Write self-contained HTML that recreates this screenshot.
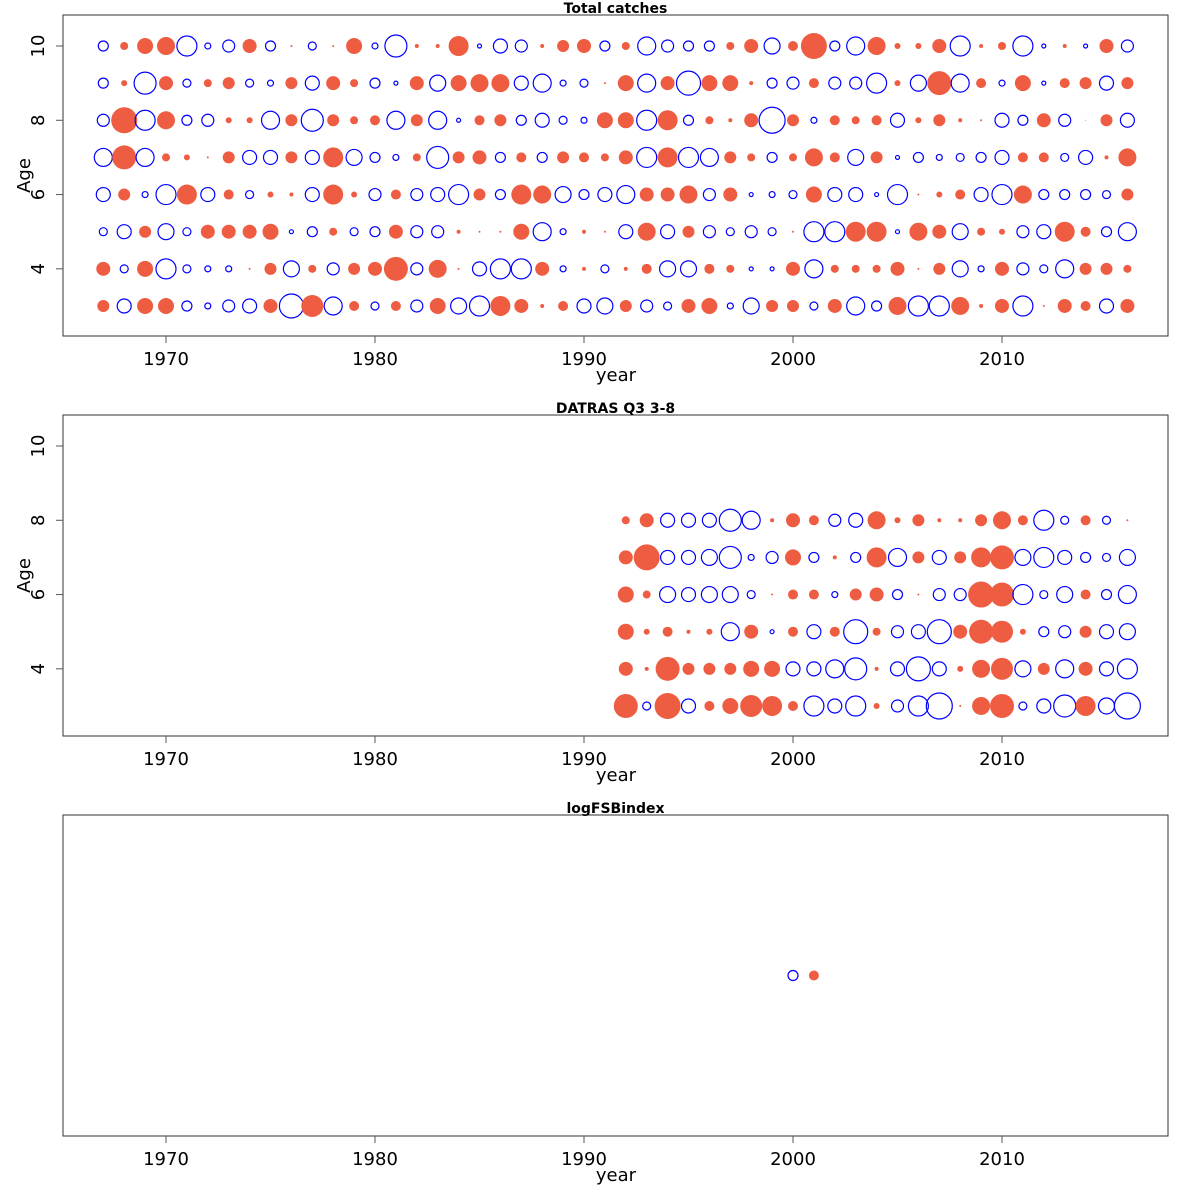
<!DOCTYPE html>
<html><head><meta charset="utf-8">
<style>
html,body{margin:0;padding:0;background:#fff;}
svg{display:block;font-family:"DejaVu Sans","Liberation Sans",sans-serif;}
</style></head>
<body>
<svg id="chart" width="1200" height="1200" viewBox="0 0 1200 1200" xmlns="http://www.w3.org/2000/svg"></svg>
<script>
// ---- data (signed bubble radius: + = positive residual (filled), - = negative (open)) ----
const years1 = [1967,1968,1969,1970,1971,1972,1973,1974,1975,1976,1977,1978,1979,1980,1981,1982,1983,1984,1985,1986,1987,1988,1989,1990,1991,1992,1993,1994,1995,1996,1997,1998,1999,2000,2001,2002,2003,2004,2005,2006,2007,2008,2009,2010,2011,2012,2013,2014,2015,2016];
const ages1 = [10,9,8,7,6,5,4,3];
// each row = one year, values in age order 10..3
const catchRes = [
[-5,-5,-6,-9,-7,-4,7,6],[4,3,13,12,6,-7,-4,-7],[8,-11,-10,-9,-3,6,8,8],[9,7,9,4,-10,-8,-10,8],
[-10,-4,-5,3,10,-4,-4,-5],[-3,4,-6,1,-7,7,-3,-3],[-6,6,3,6,5,7,-3,-6],[7,-4,3,-7,-4,7,1,-7],
[-5,-3,-9,-7,3,8,6,7],[1,6,6,6,2,-2,-8,-12],[-4,-7,-11,-7,-7,-5,4,11],[1,7,6,10,10,4,-6,-9],
[8,4,4,-8,3,-4,6,5],[-3,-5,5,-5,-6,-5,7,-4],[-11,-2,-9,-3,5,7,12,5],[2,7,6,4,-6,-6,-6,-6],
[2,-8,-9,-11,-7,-6,9,8],[10,8,-2,6,-10,2,1,-8],[-2,9,5,7,6,1,-7,-10],[-7,9,6,-5,-5,1,-10,10],
[-6,-7,-5,5,10,8,-10,7],[2,-9,-7,-5,9,-9,7,2],[6,-3,-4,6,-8,-3,-3,5],[7,-4,-3,5,-5,2,2,-7],
[-5,1,8,4,-7,1,-4,-8],[4,8,8,7,-9,-7,2,6],[-9,-9,-10,-10,7,9,5,-6],[-6,7,10,10,7,-7,-8,-4],
[-5,-12,-5,-10,9,6,-8,7],[-5,8,4,-9,-6,-6,5,8],[4,8,2,6,7,-4,4,-3],[7,2,7,4,-2,-6,-2,-8],
[-8,-5,-13,-5,-3,-4,-2,6],[5,-6,6,4,-4,1,7,6],[13,5,-3,9,8,-10,-9,-4],[-5,-6,5,5,-7,-10,4,7],
[-9,-6,4,-8,-7,10,4,-9],[9,-10,5,6,-2,10,4,-5],[3,3,-7,-2,-10,-2,7,9],[3,-8,3,-5,1,9,1,-10],
[7,12,6,-3,3,7,6,-10],[-10,-9,2,-4,5,-8,-8,9],[2,5,1,-5,-7,4,-3,2],[4,-3,-7,-7,-10,3,7,7],
[-10,8,-5,5,9,-6,-6,-10],[-2,-2,7,5,-5,-7,-4,1],[2,5,-6,-4,-5,10,-9,7],[-2,6,0.5,-7,-5,5,6,5],
[7,-7,6,2,-4,-5,6,-7],[-6,6,-7,9,6,-9,4,7]
];
const years2 = [1992,1993,1994,1995,1996,1997,1998,1999,2000,2001,2002,2003,2004,2005,2006,2007,2008,2009,2010,2011,2012,2013,2014,2015,2016];
const ages2 = [8,7,6,5,4,3];
const surveyRes = [
[4,7,8,8,7,12],[7,13,4,3,2,-4],[-7,-7,-8,5,12,13],[-7,-7,-7,2,6,-7],[-7,-8,-8,3,6,5],
[-11,-11,-8,-9,6,8],[-9,-3,-4,7,8,11],[2,-6,1,-2,8,10],[7,8,5,5,-7,5],[5,-5,5,-7,-7,-10],
[-6,2,-3,5,-9,-7],[-7,-5,6,-12,-11,-10],[9,10,7,4,2,3],[3,-9,-5,-6,-7,-6],[6,6,1,-7,-12,-10],
[2,-7,-6,-12,-7,-13],[2,6,-6,7,3,1],[6,10,13,12,9,9],[9,12,12,11,11,12],[5,-8,-10,3,-8,-4],
[-10,-10,-4,-5,6,-7],[-4,-7,-8,-6,-9,-11],[5,-5,5,6,7,10],[-4,-4,-5,-7,-7,-8],[1,-8,-9,-8,-10,-13]
];
const years3 = [2000,2001];
const fsbRes = [-5,5];
const xTicks = [1970,1980,1990,2000,2010];
const yTicks = [4,6,8,10];

// ---- drawing ----
const svg = document.getElementById('chart');
const NS = 'http://www.w3.org/2000/svg';
const RED = '#ee5c42', BLUE = '#0000ff';
const X0 = 63, X1 = 1168;
function xScale(yr){ return 166 + (yr - 1970) * 20.9; }
function mk(tag, attrs, parent){
  const e = document.createElementNS(NS, tag);
  for (const k in attrs) e.setAttribute(k, attrs[k]);
  (parent || svg).appendChild(e);
  return e;
}
function txt(s, attrs, parent){ const t = mk('text', attrs, parent); t.textContent = s; return t; }

const panels = [
  {top:15, bottom:336, title:'Total catches', name:'total-catches', yAxis:true},
  {top:415, bottom:736, title:'DATRAS Q3 3-8', name:'datras-q3', yAxis:true},
  {top:815, bottom:1136, title:'logFSBindex', name:'logfsb-index', yAxis:false}
];

function bubble(g, cx, cy, v){
  const r = Math.abs(v);
  const c = mk('circle', v >= 0 ?
    {cx:cx, cy:cy, r:r, fill:RED, stroke:'none'} :
    {cx:cx, cy:cy, r:r, fill:'none', stroke:BLUE, 'stroke-width':1.2}, g);
  
  
}

panels.forEach((p, pi) => {
  const g = mk('g', {});
  
  
  const yScale = a => p.top + 31 + (10 - a) * 37.14;
  const box = mk('rect', {x:X0, y:p.top, width:X1-X0, height:p.bottom-p.top, fill:'none', stroke:'#333', 'stroke-width':1}, g);
  
  
  const t = txt(p.title, {x:(X0+X1)/2, y:p.top-2, 'text-anchor':'middle', 'font-size':14, 'font-weight':'bold'}, g);
  
  
  xTicks.forEach(v => {
    const x = xScale(v);
    mk('line', {x1:x, x2:x, y1:p.bottom, y2:p.bottom+7, stroke:'#555'}, g);
    const l = txt(v, {x:x, y:p.bottom+29, 'text-anchor':'middle', 'font-size':18}, g);
    
    
  });
  const xl = txt('year', {x:616, y:p.bottom+45, 'text-anchor':'middle', 'font-size':18}, g);
  
  
  if (p.yAxis){
    yTicks.forEach(v => {
      const y = yScale(v);
      mk('line', {x1:X0-7, x2:X0, y1:y, y2:y, stroke:'#555'}, g);
      const l = txt(v, {x:0, y:0, 'text-anchor':'middle', 'font-size':18, transform:`translate(44,${y}) rotate(-90)`}, g);
      
      
    });
    const yl = txt('Age', {x:0, y:0, 'text-anchor':'middle', 'font-size':18, transform:`translate(30,${(p.top+p.bottom)/2}) rotate(-90)`}, g);
    
    
  }
  if (pi === 0){
    years1.forEach((yr, i) => ages1.forEach((a, j) => bubble(g, xScale(yr), yScale(a), catchRes[i][j])));
  } else if (pi === 1){
    years2.forEach((yr, i) => ages2.forEach((a, j) => bubble(g, xScale(yr), yScale(a), surveyRes[i][j])));
  } else {
    years3.forEach((yr, i) => bubble(g, xScale(yr), (p.top+p.bottom)/2, fsbRes[i]));
  }
});
</script>
</body></html>
